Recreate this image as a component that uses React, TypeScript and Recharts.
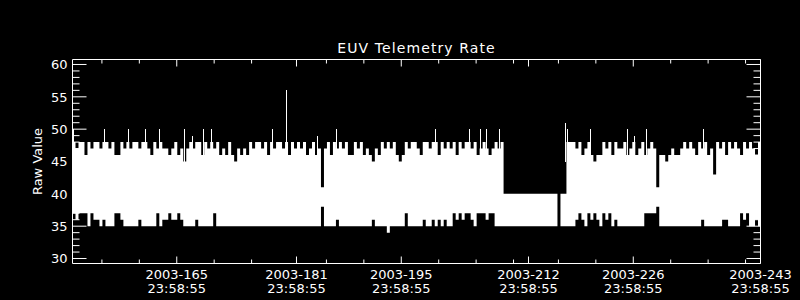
import { ComposedChart, Area, Line, XAxis, YAxis, Label } from "recharts";

// time base: day of year 2003, one bin every 0.4 day
const binStart = 151.07;
const binDays = 0.4;

// max / min raw value in each bin
const maxA = [
  48, 47, 48, 48, 46, 48, 47, 48, 48, 47, 48, 48,
  47, 48, 46, 46, 48, 47, 48, 47, 48,
  48, 47, 48, 48, 47, 46, 48, 47, 48, 47,
  47, 46, 47, 48, 46, 47, 45, 47,
  48, 47, 48, 48, 46, 48, 47, 48, 47, 48,
  46, 47, 46, 48, 46, 45, 47, 46, 47, 46,
  48, 47, 48, 48, 47, 48, 46, 48, 47, 48, 48, 47,
  48, 46, 48, 47, 48, 47, 48, 46, 47, 48, 46, 47,
];
const minA = [
  37, 36, 37, 37, 37, 35, 37, 36, 36, 35,
  36, 35, 35, 35, 37, 37, 36, 35, 35, 35,
  35, 35, 36, 35, 35, 35, 35, 35, 37, 35,
  36, 36, 37, 36, 36, 37, 36, 35, 35, 35,
  35, 36, 35, 35, 35, 35, 35, 37, 35, 35,
  35, 35, 35, 35, 35, 35, 35, 35, 35, 35,
  35, 35, 35, 35, 35, 35, 35, 35, 35, 35,
  35, 35, 35, 35, 35, 35, 35, 35, 35, 35,
  35, 35, 35,
];
const maxB = [
  41,
  47, 48, 46, 48, 47,
  48, 47, 48, 46, 46, 48, 47, 48,
  46, 47, 46, 45, 47, 46, 48, 47,
  48, 47, 48, 46, 45, 46, 48, 47, 48, 48, 47, 46, 48,
  48, 47, 48, 48, 46, 48, 47, 48, 47, 48, 46, 48,
  47, 48, 48, 47, 48, 46, 47, 48, 47, 46, 47, 48, 47, 48,
];
const minB = [
  38,
  35, 35, 35, 35, 36,
  35, 35, 35, 35, 35, 35, 35, 35, 35, 35, 35,
  36,
  35, 35, 35, 35,
  34,
  35, 35, 35, 35, 35,
  37,
  35, 35, 35, 35, 35,
  36, 35, 35, 36, 35, 36, 35, 36, 35, 35,
  37, 36, 37, 36, 37, 37, 36, 35, 37, 37,
  37, 36, 37, 37, 35, 35, 35,
];
const maxDip = [
  40, 40, 40, 40, 40, 40, 40, 40, 40, 40, 40, 40, 40, 40, 40, 40, 40, 40,
  38, 40, 40, 48,
];
const minDip = [
  35, 35, 35, 35, 35, 35, 35, 35, 35, 35, 35, 35, 35, 35, 35, 35, 35, 35,
  38, 35, 35, 35,
];
const maxC = [
  48, 48, 47, 48, 46, 47, 48,
  46, 45, 46, 46,
  48, 47, 48, 46, 48, 47, 47, 48, 46,
  47, 48, 46, 47, 48, 46, 47, 48, 47,
  41,
  46, 46, 45, 46, 47, 46, 46, 47,
  48, 47, 48, 47, 46, 48, 47, 48, 46, 47, 43, 48,
  47, 48, 46, 48, 47, 48, 47, 46, 48, 47, 48, 47, 46, 48,
];
const minC = [
  35, 35, 36, 37, 36, 35, 37, 36, 37, 36, 35, 37, 36, 37, 35, 36,
  35, 35, 35, 35, 35, 35, 35, 35, 35,
  37, 37, 37, 37,
  38,
  35, 35, 35, 35, 35, 35, 35, 35, 35, 35, 35, 35, 35, 35,
  36,
  35, 35, 35, 35, 35, 35,
  36, 36,
  35, 35, 35, 35,
  37, 36, 37, 35, 35, 36, 35,
];

// single samples standing out above the band
const spikeDays = [
  151.27, 155.41, 158.49, 160.89, 162.63, 166.1, 167.04, 168.64, 169.58, 177.86,
  179.73, 183.87, 186.41, 199.51, 204.05, 205.52, 206.45, 208.19, 217.01, 217.21,
  220.22, 225.29, 226.23, 227.83, 235.45,
];
const spikeTops = [
  50, 50, 50, 50, 50, 50, 49, 50, 50, 50,
  56, 49, 50, 50, 50, 50, 50, 50, 51, 50,
  50, 50, 49, 50, 50,
];

const majorDays = [165, 181, 195, 212, 226, 243];
const majorLabels = ["2003-165", "2003-181", "2003-195", "2003-212", "2003-226", "2003-243"];
const timeLabel = "23:58:55";
const minorDays = [155, 160, 170, 175, 185, 190, 200, 205, 210, 216, 221, 231, 236, 241];
const dayTicks = [...majorDays, ...minorDays].sort((a, b) => a - b);

const valueLabels = [30, 35, 40, 45, 50, 55, 60];
const valueTicks = [
  30, 31, 32, 33, 34, 35, 36, 37, 38, 39, 40, 41, 42, 43, 44, 45,
  46, 47, 48, 49, 50, 51, 52, 53, 54, 55, 56, 57, 58, 59, 60,
];

const maxAll = [...maxA, ...maxB, ...maxDip, ...maxC];
const minAll = [...minA, ...minB, ...minDip, ...minC];
const bins: any[] = maxAll.map((hi, i) => ({ t: binStart + i * binDays, range: [minAll[i], hi] }));
// end of the last bin
bins.push({ t: binStart + maxAll.length * binDays, range: bins[bins.length - 1].range });

const spikeData = spikeDays.flatMap((t, i) => [
  { t, v: 45 },
  { t, v: spikeTops[i] },
  { t, v: null },
]);

const FONT = "DejaVu Sans";
const WHITE = "#ffffff";

const BottomTick = (props: any) => {
  const { x, y, payload } = props;
  const idx = majorDays.indexOf(payload.value);
  const major = idx >= 0;
  return (
    <g>
      <line x1={x} x2={x} y1={y} y2={y - (major ? 7 : 4)} stroke={WHITE} />
      {major && (
        <text x={x} y={y + 15} textAnchor="middle" fill={WHITE} fontSize={13} fontFamily={FONT}>
          <tspan x={x}>{majorLabels[idx]}</tspan>
          <tspan x={x} dy={14}>{timeLabel}</tspan>
        </text>
      )}
    </g>
  );
};

const TopTick = (props: any) => {
  const { x, y, payload } = props;
  const major = majorDays.includes(payload.value);
  return <line x1={x} x2={x} y1={y} y2={y + (major ? 7 : 4)} stroke={WHITE} />;
};

const LeftTick = (props: any) => {
  const { x, y, payload } = props;
  const major = valueLabels.includes(payload.value);
  return (
    <g>
      <line x1={x} x2={x + (major ? 14 : 7)} y1={y} y2={y} stroke={WHITE} />
      {major && (
        <text x={x - 5} y={y + 4.8} textAnchor="end" fill={WHITE} fontSize={13} fontFamily={FONT}>
          {payload.value}
        </text>
      )}
    </g>
  );
};

const RightTick = (props: any) => {
  const { x, y, payload } = props;
  const major = valueLabels.includes(payload.value);
  return <line x1={x} x2={x - (major ? 14 : 7)} y1={y} y2={y} stroke={WHITE} />;
};

const renderTitle = (props: any) => {
  const vb = props.viewBox || { x: 72.5, y: 58.5, width: 688 };
  return (
    <text x={vb.x + vb.width / 2} y={vb.y - 6} textAnchor="middle" fill={WHITE} fontSize={14} letterSpacing={1.1} fontFamily={FONT}>
      EUV Telemetry Rate
    </text>
  );
};

const renderYTitle = (props: any) => {
  const vb = props.viewBox || { x: 71.5, y: 59.5, height: 204 };
  const cx = vb.x - 30;
  const cy = vb.y + vb.height / 2;
  return (
    <text x={cx} y={cy} transform={`rotate(-90 ${cx} ${cy})`} textAnchor="middle" fill={WHITE} fontSize={13} fontFamily={FONT}>
      Raw Value
    </text>
  );
};

const App = () => {
  const xProps = {
    type: "number" as const,
    dataKey: "t",
    domain: [151.07, 243],
    allowDataOverflow: true,
    ticks: dayTicks,
    interval: 0 as const,
    tickLine: false,
    tickSize: 0,
    tickMargin: 0,
    height: 1,
    axisLine: { stroke: WHITE },
  };
  const yProps = {
    type: "number" as const,
    domain: [29.23, 60.77],
    allowDataOverflow: true,
    ticks: valueTicks,
    interval: 0 as const,
    tickLine: false,
    tickSize: 0,
    tickMargin: 0,
    width: 1,
    axisLine: { stroke: WHITE },
  };
  return (
    <div style={{ position: "absolute", left: 0, top: 0, width: 800, height: 300, background: "#000" }}>
      <ComposedChart
        width={800}
        height={300}
        data={bins}
        margin={{ top: 58.5, right: 38.5, bottom: 35.5, left: 71.5 }}
        style={{ fontFamily: FONT }}
      >
        <XAxis xAxisId="b" orientation="bottom" {...xProps} tick={<BottomTick />} />
        <XAxis xAxisId="top" orientation="top" {...xProps} tick={<TopTick />}>
          <Label content={renderTitle} />
        </XAxis>
        <YAxis yAxisId="l" orientation="left" {...yProps} tick={<LeftTick />}>
          <Label content={renderYTitle} />
        </YAxis>
        <YAxis yAxisId="r" orientation="right" {...yProps} tick={<RightTick />} />
        <Area
          xAxisId="b"
          yAxisId="l"
          type="stepAfter"
          dataKey="range"
          stroke="none"
          fill={WHITE}
          fillOpacity={1}
          dot={false}
          activeDot={false}
          isAnimationActive={false}
        />
        <Line
          xAxisId="b"
          yAxisId="l"
          data={spikeData}
          dataKey="v"
          type="linear"
          stroke={WHITE}
          strokeWidth={1}
          shapeRendering="crispEdges"
          dot={false}
          activeDot={false}
          connectNulls={false}
          isAnimationActive={false}
        />
      </ComposedChart>
    </div>
  );
};

export default App;
